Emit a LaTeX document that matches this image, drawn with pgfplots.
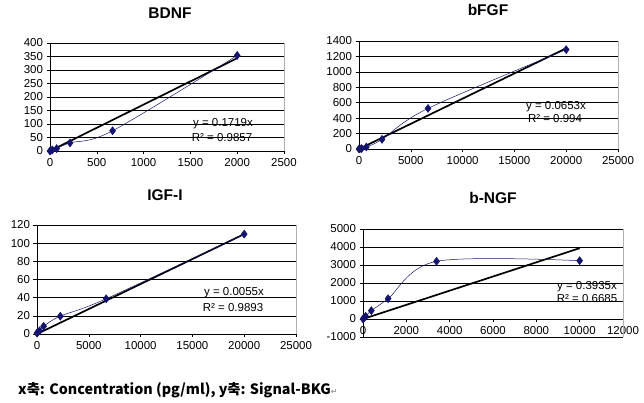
\documentclass[border=0pt]{standalone}
\usepackage{fontspec}
\setmainfont{Liberation Sans}
\newfontfamily\kr{Noto Sans CJK KR}
\newfontfamily\dejavu{DejaVu Sans}
\usepackage{pgfplots}
\pgfplotsset{compat=1.18}
\definecolor{navy}{RGB}{20,20,110}
\pgfplotsset{
  every axis/.append style={
    anchor=south west, scale only axis,
    axis x line*=middle, axis y line*=left,
    hide obscured x ticks=false, hide obscured y ticks=false,
    tick align=outside, major tick length=3.5pt,
    ymajorgrids, grid style={black, line width=0.6pt},
    axis line style={black, line width=0.6pt},
    every tick/.style={black, line width=0.6pt},
    scaled ticks=false,
    /pgf/number format/assume math mode=true,
    /pgf/number format/1000 sep={},
    tick label style={font=\fontsize{11.5}{11.5}\selectfont},
    clip=false,
  },
  dat/.style={navy, line width=0.5pt, smooth, tension=0.55, mark=diamond*, mark size=4pt, mark options={fill=navy, draw=navy}},
  fit/.style={black, line width=1.7pt, no marks},
}
\newcommand{\rborder}{\draw[gray!60, line width=0.5pt] (rel axis cs:1,0) -- (rel axis cs:1,1);}
\begin{document}
\begin{tikzpicture}[x=1pt,y=1pt]
\useasboundingbox (0,0) rectangle (644,403);
% BDNF
\begin{axis}[at={(50pt,252pt)}, width=234pt, height=108pt,
  xmin=0, xmax=2500, ymin=0, ymax=400, xtick={0,500,...,2500}, ytick={0,50,...,400}]
\rborder
\addplot[fit] coordinates {(0,0) (2000,343.8)};
\addplot[dat] coordinates {(0,0) (8,2) (25,4) (71,9) (214,30) (669,75) (2000,354)};
\end{axis}
% bFGF
\begin{axis}[at={(359pt,254pt)}, width=259pt, height=108pt,
  xmin=0, xmax=25000, ymin=0, ymax=1400, xtick={0,5000,...,25000}, ytick={0,200,...,1400}]
\rborder
\addplot[fit] coordinates {(0,0) (20000,1306)};
\addplot[dat] coordinates {(0,0) (82,3) (247,6) (708,26) (2220,125) (6660,526) (20000,1288)};
\end{axis}
% IGF-I
\begin{axis}[at={(37pt,69pt)}, width=259pt, height=109pt,
  xmin=0, xmax=25000, ymin=0, ymax=120, xtick={0,5000,...,25000}, ytick={0,20,...,120}]
\rborder
\addplot[fit] coordinates {(0,0) (20000,110)};
\addplot[dat] coordinates {(0,1) (82,2) (247,3.5) (640,8.5) (2250,19.6) (6680,38.8) (20000,110)};
\end{axis}
% b-NGF
\begin{axis}[at={(363pt,66pt)}, width=260pt, height=108pt,
  xmin=0, xmax=12000, ymin=-1000, ymax=5000, xtick={0,2000,...,12000}, ytick={-1000,0,...,5000}]
\rborder
\addplot[fit] coordinates {(0,0) (10000,3935)};
\addplot[dat] coordinates {(0,0) (41,50) (123,148) (386,463) (1157,1130) (3393,3204) (10000,3240)};
\end{axis}
% titles
\node[font=\fontsize{15.5}{15.5}\selectfont\bfseries] at (170,390) {BDNF};
\node[font=\fontsize{15.5}{15.5}\selectfont\bfseries] at (488,393) {bFGF};
\node[font=\fontsize{15.5}{15.5}\selectfont\bfseries] at (165,208) {IGF-I};
\node[font=\fontsize{15.5}{15.5}\selectfont\bfseries] at (493,205) {b-NGF};
% equations
\begin{scope}[every node/.style={font=\fontsize{11.5}{11.5}\selectfont, inner sep=0pt}]
\node at (223,279) {y = 0.1719x};
\node at (222,265) {R² = 0.9857};
\node at (556,296) {y = 0.0653x};
\node at (555,284) {R² = 0.994};
\node at (234,110) {y = 0.0055x};
\node at (233,95) {R² = 0.9893};
\node at (587,116) {y = 0.3935x};
\node at (587,104) {R² = 0.6685};
\end{scope}
% caption
\node[anchor=west, inner sep=0pt, font=\kr\bfseries\fontsize{14.3}{14.3}\selectfont] at (18,13) {x축: Concentration (pg/ml), y축: Signal-BKG{\dejavu\mdseries\fontsize{8}{8}\selectfont\color{gray}↵}};
\end{tikzpicture}
\end{document}
